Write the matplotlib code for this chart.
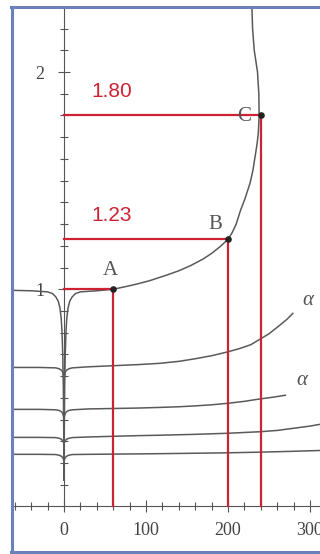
import matplotlib
matplotlib.use("Agg")
import matplotlib.pyplot as plt
from matplotlib.lines import Line2D
from matplotlib.ticker import MultipleLocator, FixedLocator

# Main curve (through A, B, C), with a cusp at x = 0
main_x = [-63, -40, -20, -14, -10, -7, -5, -3.5, -2.5, -1.5, -0.8, -0.3, 0,
          0.3, 0.8, 1.5, 2.5, 3.5, 5, 7, 10, 14, 20, 40,
          60, 75, 90, 105, 125, 140, 155, 170, 180, 190, 200, 205, 210, 215, 221, 227,
          230.5, 233, 235.5, 237, 238, 237.6, 236, 232, 230, 229]
main_y = [0.995, 0.993, 0.988, 0.98, 0.965, 0.945, 0.915, 0.87, 0.81, 0.70, 0.55, 0.35, 0.12,
          0.35, 0.55, 0.70, 0.81, 0.87, 0.915, 0.945, 0.965, 0.98, 0.988, 0.993,
          1.0, 1.012, 1.025, 1.04, 1.065, 1.085, 1.11, 1.14, 1.165, 1.195, 1.23, 1.26, 1.30, 1.36, 1.42, 1.49,
          1.55, 1.61, 1.67, 1.72, 1.80, 1.90, 2.00, 2.10, 2.20, 2.32]

# Lower family of curves
cusp_x = [-63, -30, -10, -6, -3, -1.5, -0.5, 0, 0.5, 1.5, 3, 6, 10, 30, 60, 90]
c2_x = cusp_x + [117, 140, 160, 180, 200, 215, 228, 239, 250, 263, 272, 279]
c2_y = [0.640, 0.640, 0.638, 0.634, 0.627, 0.618, 0.602, 0.585, 0.602, 0.618, 0.627, 0.634, 0.638, 0.643, 0.648, 0.653,
        0.659, 0.668, 0.680, 0.694, 0.712, 0.728, 0.745, 0.770, 0.795, 0.834, 0.862, 0.889]
c3_x = cusp_x + [117, 140, 160, 180, 200, 220, 239, 255, 270]
c3_y = [0.447, 0.447, 0.445, 0.442, 0.436, 0.428, 0.415, 0.400, 0.415, 0.428, 0.436, 0.442, 0.445, 0.449, 0.451, 0.453,
        0.456, 0.459, 0.463, 0.468, 0.475, 0.484, 0.495, 0.503, 0.512]
c4_x = cusp_x + [117, 160, 200, 239, 260, 280, 300, 315]
c4_y = [0.318, 0.318, 0.317, 0.314, 0.309, 0.302, 0.294, 0.285, 0.294, 0.302, 0.309, 0.314, 0.317, 0.320, 0.323, 0.326,
        0.328, 0.332, 0.337, 0.344, 0.350, 0.360, 0.370, 0.380]
c5_x = cusp_x + [117, 160, 200, 239, 280, 315]
c5_y = [0.240, 0.240, 0.239, 0.236, 0.231, 0.224, 0.216, 0.205, 0.216, 0.224, 0.231, 0.236, 0.239, 0.240, 0.241, 0.242,
        0.243, 0.245, 0.247, 0.250, 0.254, 0.258]

# Marked points
pt_names = ["A", "B", "C"]
pt_x = [60, 200, 240]
pt_y = [1.00, 1.23, 1.80]
value_labels = ["1.80", "1.23"]
value_y = [1.80, 1.23]

x_major = [0, 100, 200, 300]
y_major = [1, 2]
y_minor = [round(0.1 * k, 1) for k in range(1, 24) if k % 10]

W, H = 320, 554
fig = plt.figure(figsize=(W / 100, H / 100), dpi=100)
fig.patch.set_facecolor("white")
ax = fig.add_axes([12 / W, 2 / H, (W - 12) / W, 545 / H])
ax.set_xlim(-63.4, 312.2)
ax.set_ylim(-0.2097, 2.2995)
ax.set_facecolor("white")

for s in ("top", "right"):
    ax.spines[s].set_visible(False)
ax.spines["left"].set_position(("data", 0))
ax.spines["bottom"].set_position(("data", 0))
ax.spines["left"].set_bounds(0, 2.3)
for s in ("left", "bottom"):
    ax.spines[s].set_color("#555555")
    ax.spines[s].set_linewidth(0.8)

ax.set_xticks(x_major)
ax.set_xticklabels([str(v) for v in x_major], family="Liberation Serif", fontsize=13, color="#444444")
ax.xaxis.set_minor_locator(MultipleLocator(20))
ax.set_yticks(y_major)
ax.set_yticklabels([str(v) for v in y_major], family="Liberation Serif", fontsize=13, color="#444444")
ax.yaxis.set_minor_locator(FixedLocator(y_minor))
ax.tick_params(which="major", direction="inout", length=8, width=0.8, color="#555555")
ax.tick_params(which="minor", direction="inout", length=6, width=0.8, color="#555555")
ax.tick_params(axis="x", which="major", pad=7)
ax.tick_params(axis="y", which="major", pad=10)

curve_kw = dict(color="#5a5a5a", lw=1.1, solid_joinstyle="round", zorder=3)
ax.plot(main_x, main_y, **curve_kw)
for cx, cy in ((c2_x, c2_y), (c3_x, c3_y), (c4_x, c4_y), (c5_x, c5_y)):
    ax.plot(cx, cy, **curve_kw)

red = "#cc2233"
for x, y in zip(pt_x, pt_y):
    ax.plot([0, x], [y, y], color=red, lw=1.6, zorder=4)
    ax.plot([x, x], [0, y], color=red, lw=1.6, zorder=4)
ax.scatter(pt_x, pt_y, s=14, color="#222222", zorder=5)

label_off = [(-3, 0.085), (-16, 0.07), (-21, -0.005)]
for name, x, y, (dx, dy) in zip(pt_names, pt_x, pt_y, label_off):
    ax.text(x + dx, y + dy, name, family="Liberation Serif", fontsize=15, color="#555555",
            ha="center", va="center", zorder=6)

for lab, y in zip(value_labels, value_y):
    ax.text(34, y + 0.11, lab, family="Liberation Sans", fontsize=15, color=red,
            ha="left", va="center", zorder=6)

ax.text(298, 0.95, "α", family="Liberation Serif", fontsize=15, style="italic",
        color="#555555", ha="center", va="center")
ax.text(290, 0.58, "α", family="Liberation Serif", fontsize=15, style="italic",
        color="#555555", ha="center", va="center")

# blue frame around the figure
blue = "#6c80bb"
fig.add_artist(Line2D([12 / W, 12 / W], [2 / H, 547 / H], color=blue, lw=2.2, transform=fig.transFigure))
fig.add_artist(Line2D([11 / W, 1.0], [547 / H, 547 / H], color=blue, lw=2.2, transform=fig.transFigure))
fig.add_artist(Line2D([11 / W, 1.0], [2 / H, 2 / H], color=blue, lw=2.2, transform=fig.transFigure))

fig.savefig("out.png", dpi=100, facecolor="white")
